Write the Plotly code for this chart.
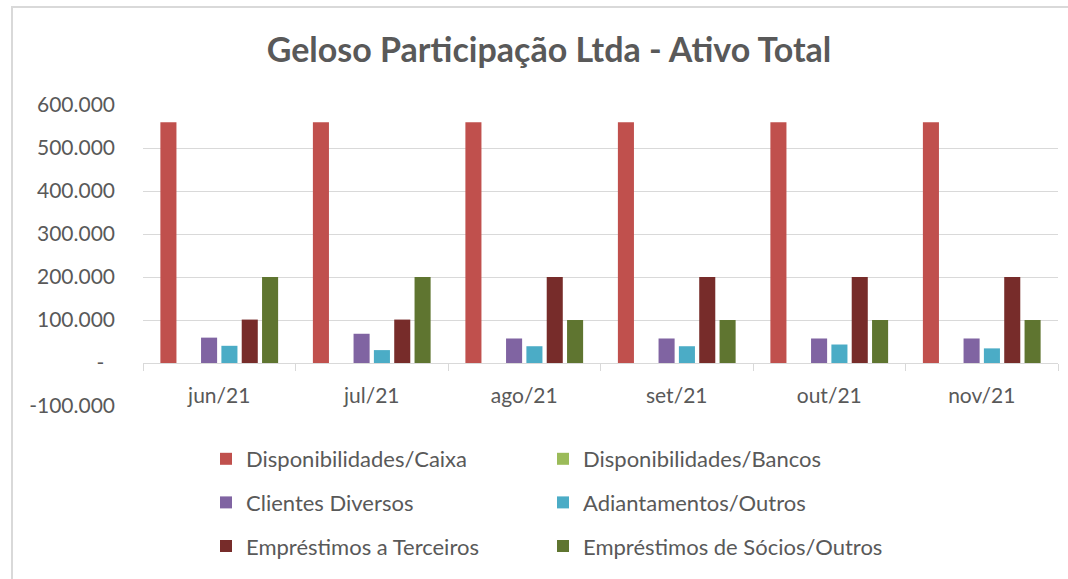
import plotly.graph_objects as go

months = ["jun/21", "jul/21", "ago/21", "set/21", "out/21", "nov/21"]
caixa = [560000, 560000, 560000, 560000, 560000, 560000]
bancos = [0, 0, 0, 0, 0, 0]
clientes = [59000, 68000, 57000, 57000, 57000, 57000]
adiantamentos = [40000, 30000, 39000, 39000, 43000, 34000]
emp_terceiros = [101000, 101000, 200000, 200000, 200000, 200000]
emp_socios = [200000, 200000, 100000, 100000, 100000, 100000]

series_names = ["Disponibilidades/Caixa", "Disponibilidades/Bancos", "Clientes Diversos",
                "Adiantamentos/Outros", "Empréstimos a Terceiros", "Empréstimos de Sócios/Outros"]
series_values = [caixa, bancos, clientes, adiantamentos, emp_terceiros, emp_socios]
colors = ["#C0504D", "#9BBB59", "#8064A2", "#4BACC6", "#772C2A", "#5F7530"]
legend_ids = ["legend", "legend2", "legend", "legend2", "legend", "legend2"]

y_tickvals = [-100000, 0, 100000, 200000, 300000, 400000, 500000, 600000]
y_ticktext = ["-100.000", "-\u00a0\u00a0", "100.000", "200.000", "300.000", "400.000", "500.000", "600.000"]

FONT = "Lato"
TXT = "#595959"
GRID = "#D9D9D9"

fig = go.Figure()
for i, (name, vals, col, lg) in enumerate(zip(series_names, series_values, colors, legend_ids)):
    fig.add_trace(go.Bar(
        x=months, y=vals, name=name, marker=dict(color=col, line=dict(width=0)),
        legend=lg, legendgroup=f"g{i}",
    ))

W, H = 1068, 579
L, R, T, B = 143, 10, 105, 173
pw = W - L - R
ph = H - T - B

def px_x(x):
    return (x - L) / pw

def px_y(y):
    return (H - B - y) / ph

legend_common = dict(xanchor="left", yanchor="top", xref="container", yref="container",
                     orientation="v", tracegroupgap=12, bgcolor="rgba(0,0,0,0)",
                     font=dict(family=FONT, size=22, color=TXT))

fig.update_layout(
    width=W, height=H,
    margin=dict(l=L, r=R, t=T, b=B, autoexpand=False),
    paper_bgcolor="white", plot_bgcolor="white",
    barmode="group", bargap=0.2, bargroupgap=0.21,
    font=dict(family=FONT, color=TXT, size=21),
    title=dict(text="<b>Geloso Participação Ltda - Ativo Total</b>",
               x=549 / W, xanchor="center", y=1 - 50 / H, yanchor="middle",
               xref="container", yref="container",
               font=dict(family=FONT, size=34, color=TXT)),
    legend=dict(x=206 / W, y=1 - 438 / H, **legend_common),
    legend2=dict(x=543 / W, y=1 - 438 / H, **legend_common),
    xaxis=dict(
        type="category", anchor="free", position=1 / 7,
        showline=True, linecolor=GRID, linewidth=1,
        ticks="outside", tickson="boundaries", ticklen=7, tickcolor=GRID, tickwidth=1,
        showgrid=False, ticklabelstandoff=14,
        tickfont=dict(family=FONT, size=21, color=TXT),
    ),
    yaxis=dict(
        range=[-100000, 600000], tickvals=y_tickvals, ticktext=y_ticktext,
        showgrid=True, gridcolor=GRID, gridwidth=1, zeroline=False, showline=False,
        ticks="", ticklabelstandoff=27,
        tickfont=dict(family=FONT, size=21, color=TXT),
    ),
    shapes=[dict(type="rect", xref="paper", yref="paper",
                 x0=px_x(12), x1=px_x(1100), y0=px_y(7), y1=px_y(650),
                 line=dict(color=GRID, width=2), fillcolor="rgba(0,0,0,0)", layer="below")],
)

fig.write_html("out.html", config={"displayModeBar": False},
               post_script="document.body.style.margin='0';")
